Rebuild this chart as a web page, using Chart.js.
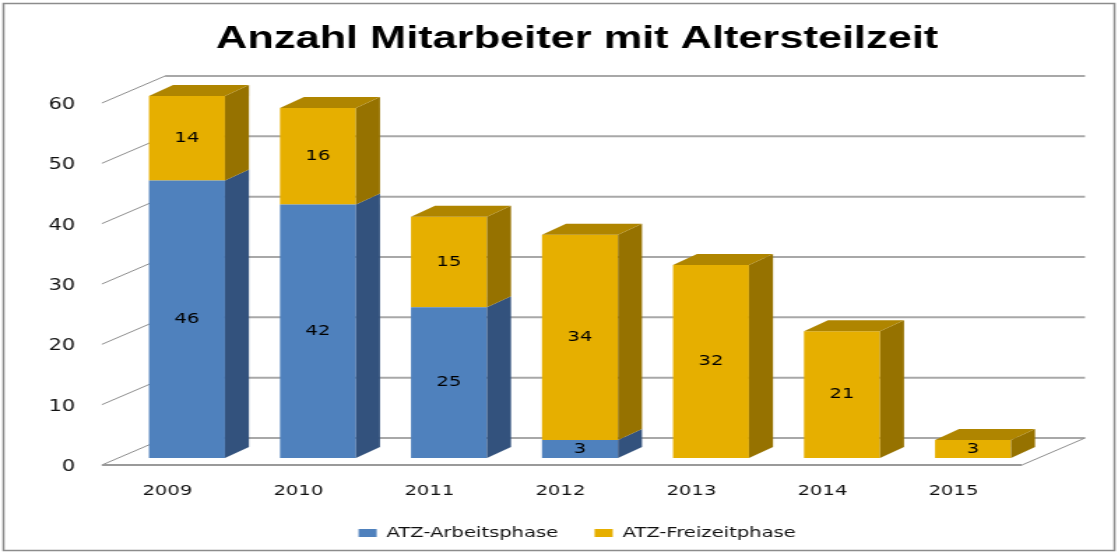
<!DOCTYPE html>
<html>
<head>
<meta charset="utf-8">
<script src="https://cdn.jsdelivr.net/npm/chart.js@4/dist/chart.umd.min.js"></script>
<style>
html,body{margin:0;padding:0;background:#fff;overflow:hidden}
canvas{display:block}
</style>
</head>
<body>
<canvas id="c" width="800" height="553" style="width:1118px;height:553px"></canvas>
<script>
// ---- data ----
const categories = ['2009', '2010', '2011', '2012', '2013', '2014', '2015'];
const arbeitsphase = [46, 42, 25, 3, 0, 0, 0];
const freizeitphase = [14, 16, 15, 34, 32, 21, 3];
const seriesNames = ['ATZ-Arbeitsphase', 'ATZ-Freizeitphase'];
const yTickValues = [0, 10, 20, 30, 40, 50, 60];
const titleText = 'Anzahl Mitarbeiter mit Altersteilzeit';

// ---- styles ----
const frontColors = ['#4F81BD', '#E6AF00'];
const sideColors = ['#33527D', '#967200'];
const topColors = ['#3E6699', '#AF8500'];

Chart.defaults.font.family = 'DejaVu Sans';

const DEPTH_X = 17.2, DEPTH_Y = -11;   // bar depth
const FRONT_DY = 7, BACK_DY = -20;     // floor/wall offsets from the bar front plane

function poly(ctx, pts) {
  ctx.beginPath();
  ctx.moveTo(pts[0][0], pts[0][1]);
  for (let i = 1; i < pts.length; i++) ctx.lineTo(pts[i][0], pts[i][1]);
  ctx.closePath();
  ctx.fill();
}
function line(ctx, x1, y1, x2, y2) {
  ctx.beginPath(); ctx.moveTo(x1, y1); ctx.lineTo(x2, y2); ctx.stroke();
}

const threeD = {
  id: 'threeD',
  beforeDraw(chart) {
    const ctx = chart.ctx;
    ctx.save();
    ctx.strokeStyle = '#8c8c8c';
    ctx.lineWidth = 1.5;
    ctx.strokeRect(2.5, 3.5, chart.width - 5, chart.height - 6);
    ctx.restore();
  },
  beforeDatasetsDraw(chart) {
    const ctx = chart.ctx, ca = chart.chartArea, y = chart.scales.y;
    const fl = ca.left - 14, bl = ca.left + 31.2, br = ca.right + 33.3, fr = ca.right - 11.8;
    ctx.save();
    y.ticks.forEach(t => {
      const py = y.getPixelForValue(t.value);
      ctx.strokeStyle = '#a8a8a8'; ctx.lineWidth = 2;
      line(ctx, bl, py + BACK_DY, br, py + BACK_DY);
      ctx.strokeStyle = '#8e8e8e'; ctx.lineWidth = 1;
      line(ctx, fl, py + FRONT_DY, bl, py + BACK_DY);
    });
    const p0 = y.getPixelForValue(0);
    ctx.strokeStyle = '#9a9a9a'; ctx.lineWidth = 2;
    line(ctx, fl, p0 + FRONT_DY, fr, p0 + FRONT_DY);
    ctx.strokeStyle = '#8e8e8e'; ctx.lineWidth = 1;
    line(ctx, fr, p0 + FRONT_DY, br, p0 + BACK_DY);
    ctx.restore();
  },
  afterDatasetsDraw(chart) {
    const ctx = chart.ctx;
    const metas = chart.data.datasets.map((d, i) => chart.getDatasetMeta(i));
    ctx.save();
    categories.forEach((c, idx) => {
      let top = null, topDs = -1;
      metas.forEach((m, di) => {
        const v = chart.data.datasets[di].data[idx];
        if (!v) return;
        const p = m.data[idx].getProps(['x', 'y', 'base', 'width'], true);
        const r = p.x + p.width / 2;
        ctx.fillStyle = sideColors[di];
        poly(ctx, [[r, p.y], [r + DEPTH_X, p.y + DEPTH_Y], [r + DEPTH_X, p.base + DEPTH_Y], [r, p.base]]);
        top = p; topDs = di;
      });
      if (top) {
        const l = top.x - top.width / 2, r = top.x + top.width / 2;
        ctx.fillStyle = topColors[topDs];
        poly(ctx, [[l, top.y], [l + DEPTH_X, top.y + DEPTH_Y], [r + DEPTH_X, top.y + DEPTH_Y], [r, top.y]]);
      }
    });
    // data labels
    ctx.fillStyle = '#000';
    ctx.font = '14px "DejaVu Sans"';
    ctx.textAlign = 'center';
    ctx.textBaseline = 'middle';
    metas.forEach((m, di) => {
      chart.data.datasets[di].data.forEach((v, idx) => {
        if (!v) return;
        const p = m.data[idx].getProps(['x', 'y', 'base'], true);
        ctx.fillText(String(v), p.x, (p.y + p.base) / 2);
      });
    });
    ctx.restore();
  }
};

new Chart(document.getElementById('c'), {
  type: 'bar',
  data: {
    labels: categories,
    datasets: [
      { label: seriesNames[0], data: arbeitsphase, backgroundColor: frontColors[0], borderWidth: 0 },
      { label: seriesNames[1], data: freizeitphase, backgroundColor: frontColors[1], borderWidth: 0 }
    ]
  },
  options: {
    responsive: false,
    devicePixelRatio: 1,
    animation: false,
    events: [],
    layout: { padding: { left: 26, right: 0, top: 0, bottom: 3 } },
    datasets: { bar: { categoryPercentage: 1, barPercentage: 0.58 } },
    scales: {
      x: {
        stacked: true,
        grid: { display: false, drawTicks: false },
        border: { display: false },
        ticks: { color: '#111', font: { size: 14 }, padding: 25, labelOffset: -14, maxRotation: 0 },
        afterFit: s => { s.height = 42; }
      },
      y: {
        stacked: true,
        min: 0, max: 60,
        afterBuildTicks: s => { s.ticks = yTickValues.map(v => ({ value: v })); },
        grid: { display: false, drawTicks: false },
        border: { display: false },
        ticks: { color: '#111', font: { size: 15 }, padding: 33, labelOffset: 9 },
        afterFit: s => { s.width = 60.9; }
      },
      yRight: {
        position: 'right',
        display: true,
        grid: { display: false, drawTicks: false },
        border: { display: false },
        ticks: { display: false },
        afterFit: s => { s.width = 56.9; }
      }
    },
    plugins: {
      title: {
        display: true,
        text: titleText,
        color: '#000',
        font: { family: 'Liberation Sans', weight: 'bold', size: 31, lineHeight: 1.2 },
        padding: { top: 21, bottom: 37.8 }
      },
      legend: {
        position: 'bottom',
        labels: { color: '#111', font: { size: 14 }, boxWidth: 13, boxHeight: 8, padding: 26 }
      },
      tooltip: { enabled: false }
    }
  },
  plugins: [threeD]
});
</script>
</body>
</html>
